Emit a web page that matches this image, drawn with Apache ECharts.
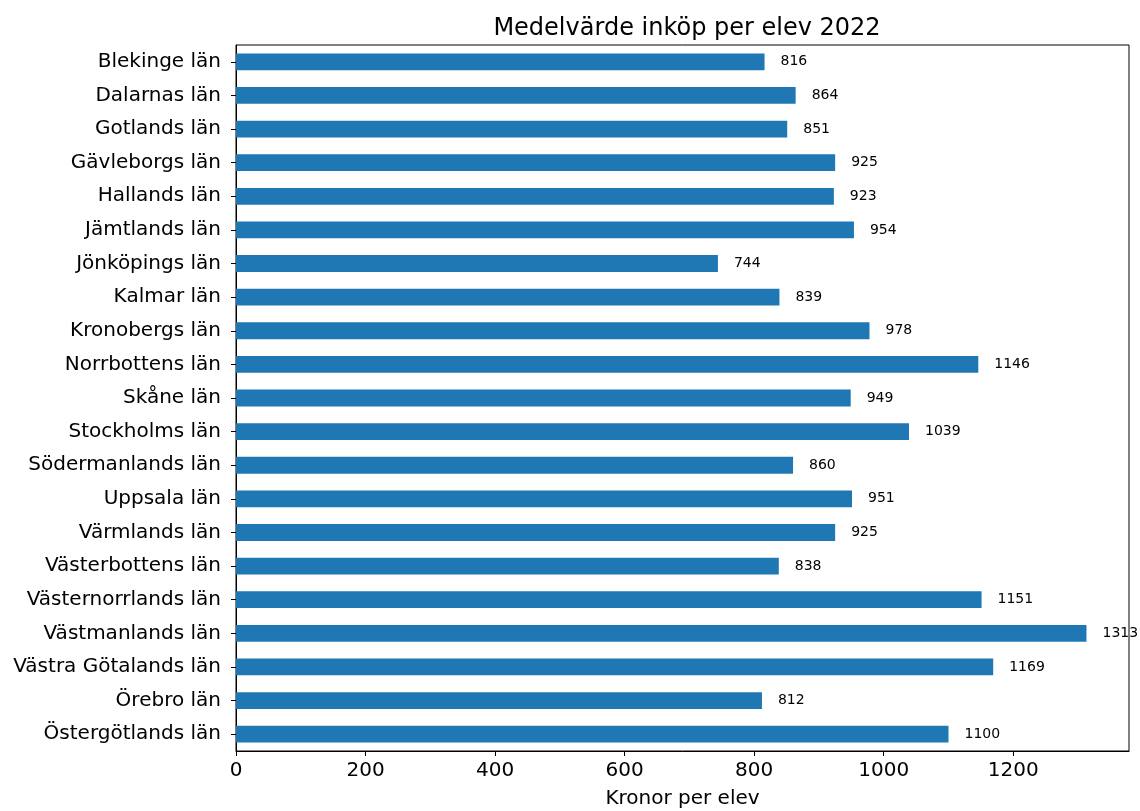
<!DOCTYPE html>
<html>
<head>
<meta charset="utf-8">
<script src="https://cdn.jsdelivr.net/npm/echarts@6/dist/echarts.min.js"></script>
<style>html,body{margin:0;padding:0;background:#fff}#c{width:1140px;height:811px}</style>
</head>
<body>
<div id="c"></div>
<script>
const categories = ["Blekinge län","Dalarnas län","Gotlands län","Gävleborgs län","Hallands län","Jämtlands län","Jönköpings län","Kalmar län","Kronobergs län","Norrbottens län","Skåne län","Stockholms län","Södermanlands län","Uppsala län","Värmlands län","Västerbottens län","Västernorrlands län","Västmanlands län","Västra Götalands län","Örebro län","Östergötlands län"];
const values = [816,864,851,925,923,954,744,839,978,1146,949,1039,860,951,925,838,1151,1313,1169,812,1100];
const xTicks = [0,200,400,600,800,1000,1200];
const titleText = "Medelvärde inköp per elev 2022";
const xName = "Kronor per elev";

const xMax = Math.max(...values) * 1.05;
const font = "DejaVu Sans";
const chart = echarts.init(document.getElementById('c'), null, {renderer:'canvas'});
chart.setOption({
  animation:false,
  textStyle:{fontFamily:font},
  title:{text:titleText,left:682,textAlign:'center',top:12,textStyle:{fontFamily:font,fontSize:24,fontWeight:'normal',color:'#000'}},
  grid:{left:236,top:45,right:11,bottom:60,show:true,borderColor:'#000',borderWidth:1,containLabel:false,outerBoundsMode:'none'},
  xAxis:{type:'value',min:0,max:xMax,interval:200,
    name:xName,nameLocation:'middle',nameGap:38,nameTextStyle:{fontFamily:font,fontSize:20,color:'#000'},
    axisLine:{show:true,lineStyle:{color:'#000',width:1}},
    axisTick:{show:true,length:5,lineStyle:{color:'#000'},customValues:xTicks},
    axisLabel:{fontFamily:font,fontSize:20,color:'#000',margin:10,customValues:xTicks,formatter:v=>String(v)},
    splitLine:{show:false}},
  yAxis:{type:'category',data:categories,inverse:true,boundaryGap:true,
    axisLine:{show:true,lineStyle:{color:'#000',width:1}},
    axisTick:{show:true,length:5,alignWithLabel:true,lineStyle:{color:'#000'}},
    axisLabel:{fontFamily:font,fontSize:20,color:'#000',margin:15}},
  series:[{type:'bar',data:values,barWidth:'50%',itemStyle:{color:'#1f77b4'},
    label:{show:true,position:'right',distance:16,fontFamily:font,fontSize:14,color:'#000'}}]
});
</script>
</body>
</html>
